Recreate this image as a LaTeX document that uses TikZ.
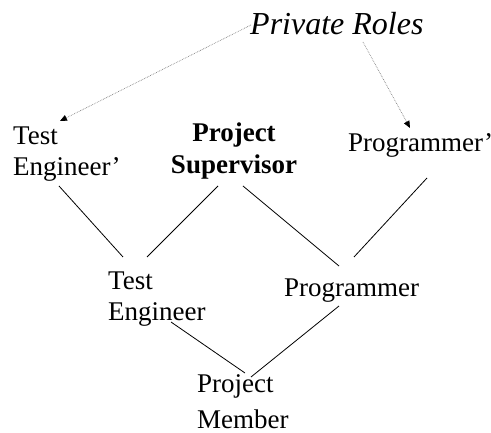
\documentclass[tikz,border=0pt]{standalone}
\usepackage{fontspec}
\setmainfont{Liberation Serif}
\usetikzlibrary{positioning,arrows.meta}

\begin{document}
\begin{tikzpicture}[
  x=1pt, y=-1pt,
  role/.style={inner sep=0pt, align=left, anchor=base west, font=\fontsize{27}{31.5}\selectfont},
  boss/.style={role, align=center, anchor=base, font=\fontsize{27}{32}\selectfont\bfseries},
  link/.style={line width=0.8pt, black},
  priv/.style={-{Triangle[length=7pt,width=6pt,color=black]}, densely dotted, gray, line width=0.7pt},
]
\useasboundingbox (0,0) rectangle (491,433);
\node[role, font=\fontsize{32}{36}\selectfont\itshape] (private) at (250,35) {Private Roles};
\node[role] (tep) at (13,176) {Test\\Engineer'};
\node[boss] (sup) at (234,174) {Project\\Supervisor};
\node[role] (prp) at (348,152) {Programmer'};
\node[role] (te) at (108,321) {Test\\Engineer};
\node[role] (pr) at (284,297) {Programmer};
\node[role, font=\fontsize{27}{36}\selectfont] (mem) at (197,429) {Project\\Member};
% private roles
\draw[priv] ([shift={(1,-10)}]private.base west) -- ([shift={(47,-55)}]tep.base west);
\draw[priv] ([shift={(113,7)}]private.base west) -- ([shift={(62,-24)}]prp.base west);
% hierarchy
\draw[link] ([shift={(46,10)}]tep.base west) -- ([shift={(15,-64)}]te.base west);
\draw[link] ([shift={(-16,12)}]sup.base) -- ([shift={(39,-64)}]te.base west);
\draw[link] ([shift={(9,12)}]sup.base) -- ([shift={(55,-31)}]pr.base west);
\draw[link] ([shift={(79,26)}]prp.base west) -- ([shift={(70,-40)}]pr.base west);
\draw[link] ([shift={(63,1)}]te.base west) -- ([shift={(48,-56)}]mem.base west);
\draw[link] ([shift={(55,9)}]pr.base west) -- ([shift={(54,-52)}]mem.base west);
\end{tikzpicture}
\end{document}
